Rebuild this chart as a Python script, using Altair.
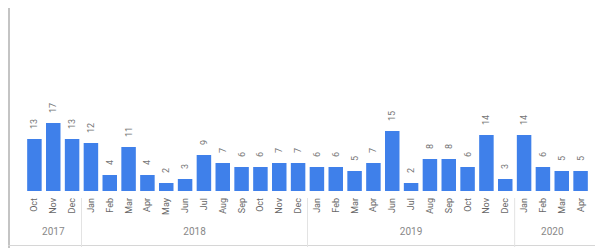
import altair as alt
import pandas as pd

# Data (May 2019 has no bar)
months = ["Oct", "Nov", "Dec",
          "Jan", "Feb", "Mar", "Apr", "May", "Jun", "Jul", "Aug", "Sep", "Oct", "Nov", "Dec",
          "Jan", "Feb", "Mar", "Apr", "Jun", "Jul", "Aug", "Sep", "Oct", "Nov", "Dec",
          "Jan", "Feb", "Mar", "Apr"]
years = ["2017"] * 3 + ["2018"] * 12 + ["2019"] * 11 + ["2020"] * 4
values = [13, 17, 13,
          12, 4, 11, 4, 2, 3, 9, 7, 6, 6, 7, 7,
          6, 6, 5, 7, 15, 2, 8, 8, 6, 14, 3,
          14, 6, 5, 5]
year_bounds = [2.5, 14.5, 25.5]

df = pd.DataFrame({"idx": list(range(len(values))), "month": months,
                   "year": years, "value": values})
bounds = pd.DataFrame({"b": year_bounds})

W, H = 575, 183
BLUE = "#3f80ea"
FONT = "Roboto"

xs = alt.Scale(domain=[-0.5, len(values) - 0.5], nice=False, zero=False)
ys = alt.Scale(domain=[0, 45.75], nice=False)

base = alt.Chart(df)

bars = base.mark_bar(size=14.5, color=BLUE).encode(
    x=alt.X("idx:Q", scale=xs, axis=None),
    y=alt.Y("value:Q", scale=ys, axis=None),
)

vlabels = base.mark_text(angle=270, align="left", baseline="middle", dx=10,
                         fontSize=9, font=FONT, color="#757575").encode(
    x=alt.X("idx:Q", scale=xs, axis=None),
    y=alt.Y("value:Q", scale=ys, axis=None),
    text="value:Q",
)

mlabels = base.mark_text(angle=270, align="right", baseline="middle",
                         fontSize=9, font=FONT, color="#666666").encode(
    x=alt.X("idx:Q", scale=xs, axis=None),
    y=alt.value(190),
    text="month:N",
)

ylabels = base.mark_text(baseline="middle", align="center", fontSize=10,
                         font=FONT, color="#888888").encode(
    x=alt.X("mean(idx):Q", scale=xs, axis=None),
    y=alt.value(224),
    text="year:N",
)

dividers = alt.Chart(bounds).mark_rule(color="#e3e3e3", strokeWidth=1).encode(
    x=alt.X("b:Q", scale=xs, axis=None),
    y=alt.value(190),
    y2=alt.value(239),
)

frame = alt.Chart(bounds).mark_rule(color="#c4c4c4", strokeWidth=2).encode(
    x=alt.value(-11),
    y=alt.value(-1),
    y2=alt.value(240),
)

bottom = alt.Chart(bounds).mark_rule(color="#d6d6d6", strokeWidth=1).encode(
    x=alt.value(-12),
    x2=alt.value(W),
    y=alt.value(237.5),
)

chart = alt.layer(frame, bottom, dividers, bars, vlabels, mlabels, ylabels).properties(
    width=W, height=H,
    autosize=alt.AutoSizeParams(type="none"),
    padding={"left": 12, "top": 0, "right": 0, "bottom": 57},
).configure_view(stroke=None)

chart.save("out.html", embed_options={"renderer": "svg", "actions": False})
